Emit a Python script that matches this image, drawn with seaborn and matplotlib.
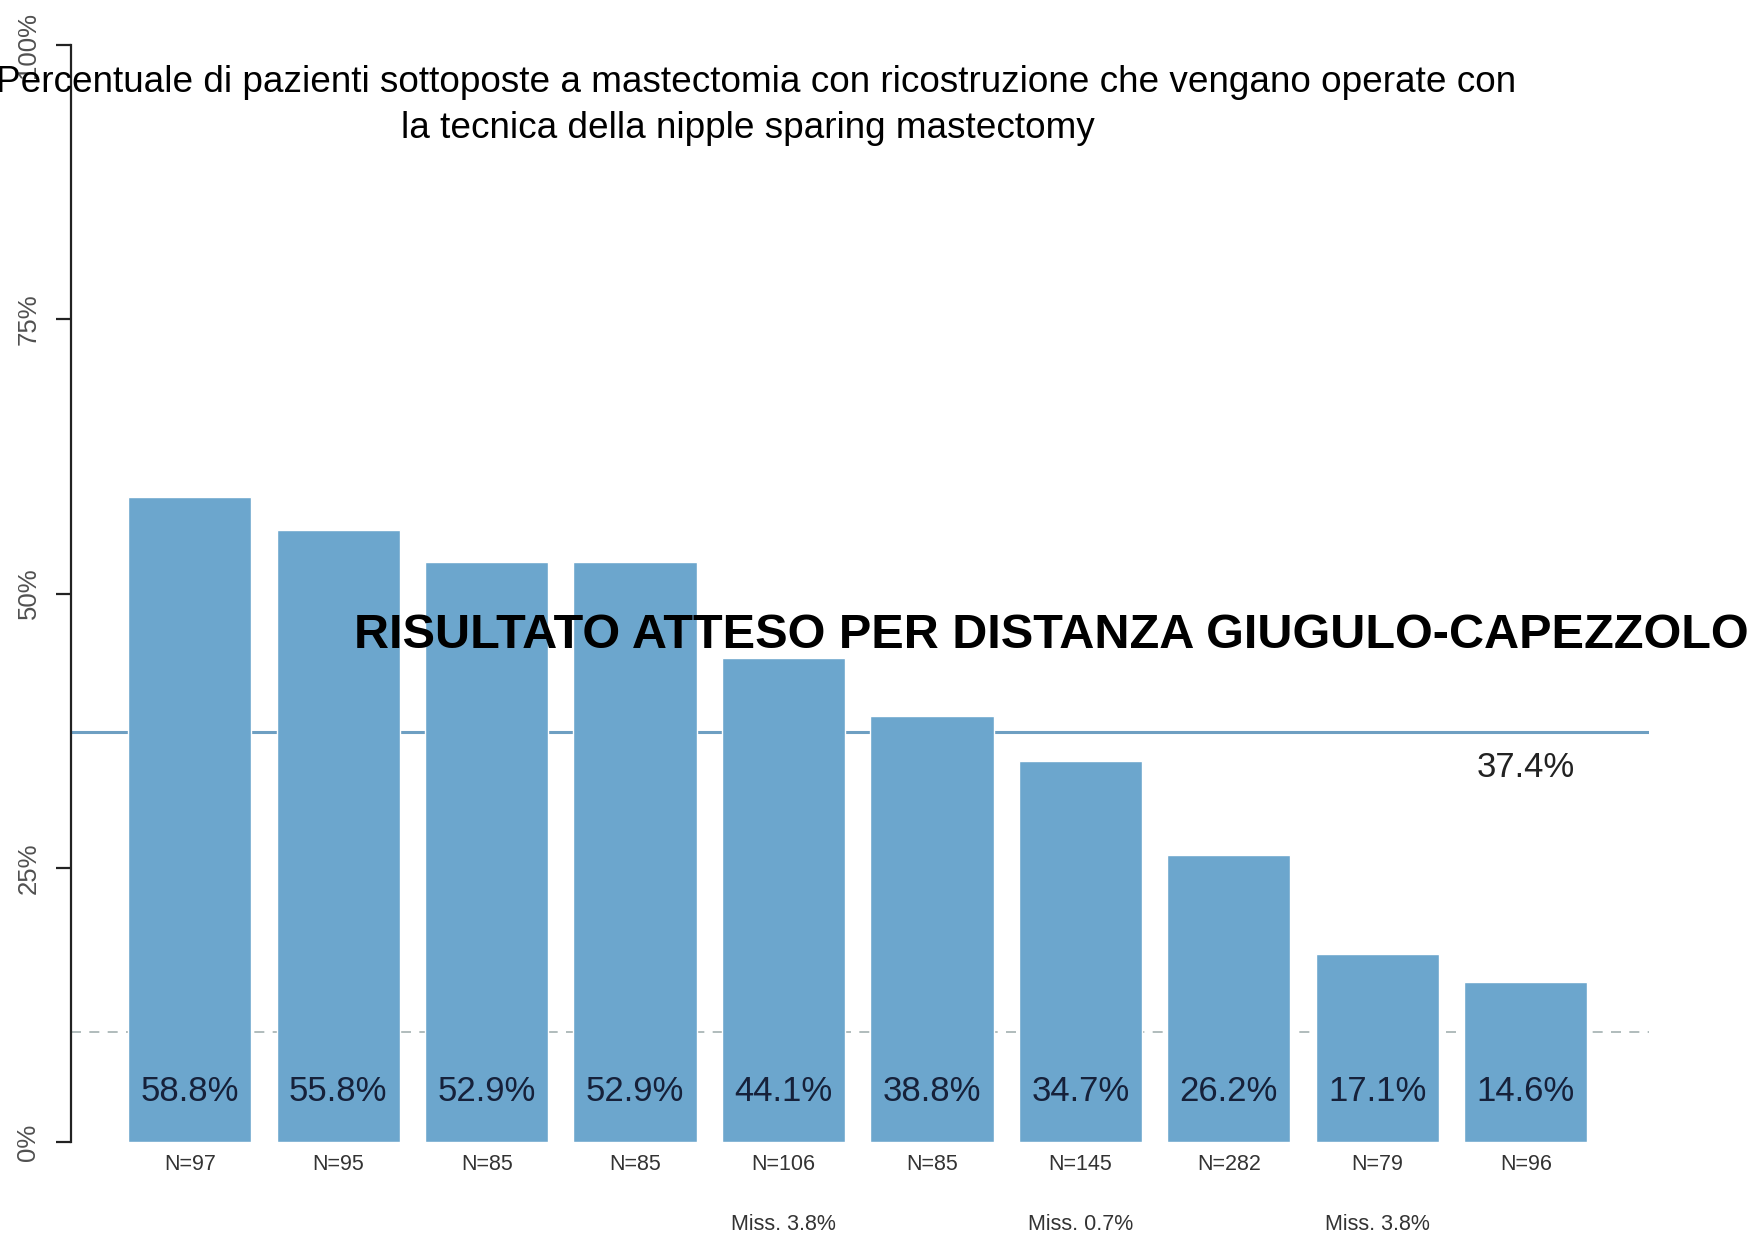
import matplotlib
matplotlib.use("Agg")
import matplotlib.pyplot as plt
import seaborn as sns
import pandas as pd

# -------------------------
# Data
# -------------------------
categories = ["A", "B", "C", "D", "E", "F", "G", "H", "I", "J"]
percentages = [58.8, 55.8, 52.9, 52.9, 44.1, 38.8, 34.7, 26.2, 17.1, 14.6]
n_labels = ["N=97", "N=95", "N=85", "N=85", "N=106", "N=85", "N=145", "N=282", "N=79", "N=96"]
missing_labels = ["", "", "", "", "Miss. 3.8%", "", "Miss. 0.7%", "", "Miss. 3.8%", ""]
expected_value = 37.4
threshold_value = 10.0
y_ticks = [0, 25, 50, 75, 100]
y_tick_labels = ["0%", "25%", "50%", "75%", "100%"]

TITLE_1 = "Percentuale di pazienti sottoposte a mastectomia con ricostruzione che vengano operate con"
TITLE_2 = "la tecnica della nipple sparing mastectomy"
ANNOTATION = "RISULTATO ATTESO PER DISTANZA GIUGULO-CAPEZZOLO"

BAR_COLOR = "#6CA6CD"
LINE_COLOR = "#6E9FC2"
NARROW = ["Liberation Sans Narrow", "Liberation Sans"]

df = pd.DataFrame({"category": categories, "pct": percentages})

sns.set_theme(style="white")
plt.rcParams["font.family"] = ["Liberation Sans", "DejaVu Sans"]

W, H = 1755, 1236
fig = plt.figure(figsize=(W / 100, H / 100), dpi=100)
fig.patch.set_facecolor("white")

# axes placed in pixel terms: y axis at x=71, 0% at y=1142, 100% at y=45
ax = fig.add_axes([71 / W, (H - 1142) / H, (1649 - 71) / W, (1142 - 45) / H])

sns.barplot(data=df, x="category", y="pct", order=categories, color=BAR_COLOR,
            saturation=1, width=0.83, ax=ax)

ax.set_xlim(-0.80, 9.83)
ax.set_ylim(0, 100)

# reference lines
ax.axhline(expected_value, color=LINE_COLOR, lw=2.2, zorder=1)
ax.axhline(threshold_value, color="#a3b0b0", lw=1.2, ls=(0, (6, 5)), zorder=1)
for p in ax.patches:
    p.set_zorder(2)

# spines and ticks
for s in ["top", "right", "bottom"]:
    ax.spines[s].set_visible(False)
ax.spines["left"].set_color("#222222")
ax.spines["left"].set_linewidth(1.6)
ax.set_yticks(y_ticks)
ax.set_yticklabels(y_tick_labels, rotation=90, va="center",
                   family=NARROW, fontsize=18.5, color="#505050")
ax.tick_params(axis="y", left=True, length=11, width=1.6, color="#222222", pad=11)
ax.set_xticks(range(len(categories)))
ax.set_xticklabels(n_labels, family=NARROW, fontsize=15.5, color="#333333")
ax.tick_params(axis="x", bottom=False, length=0, pad=9)
ax.set_xlabel("")
ax.set_ylabel("")

# value labels inside the bars
for i, v in enumerate(percentages):
    ax.text(i, 4.6, f"{v:.1f}%", ha="center", va="center", fontsize=25, color="#16213a", zorder=3)

# missing labels below the N labels
for i, m in enumerate(missing_labels):
    if m:
        ax.text(i, -7.5, m, ha="center", va="center", family=NARROW,
                fontsize=15.5, color="#333333", clip_on=False)

# expected value label
ax.text(9, expected_value - 3.3, f"{expected_value:.1f}%", ha="center", va="center",
        fontsize=25, color="#222222")

# bold annotation
fig.text(354 / W, 1 - 636 / H, ANNOTATION, ha="left", va="center", fontsize=35,
         fontweight="bold", color="black")

# title
fig.text(756 / W, 1 - 83 / H, TITLE_1, ha="center", va="center", fontsize=26.6, color="black")
fig.text(748 / W, 1 - 128 / H, TITLE_2, ha="center", va="center", fontsize=26.6, color="black")

fig.savefig("out.png", dpi=100, facecolor="white")
